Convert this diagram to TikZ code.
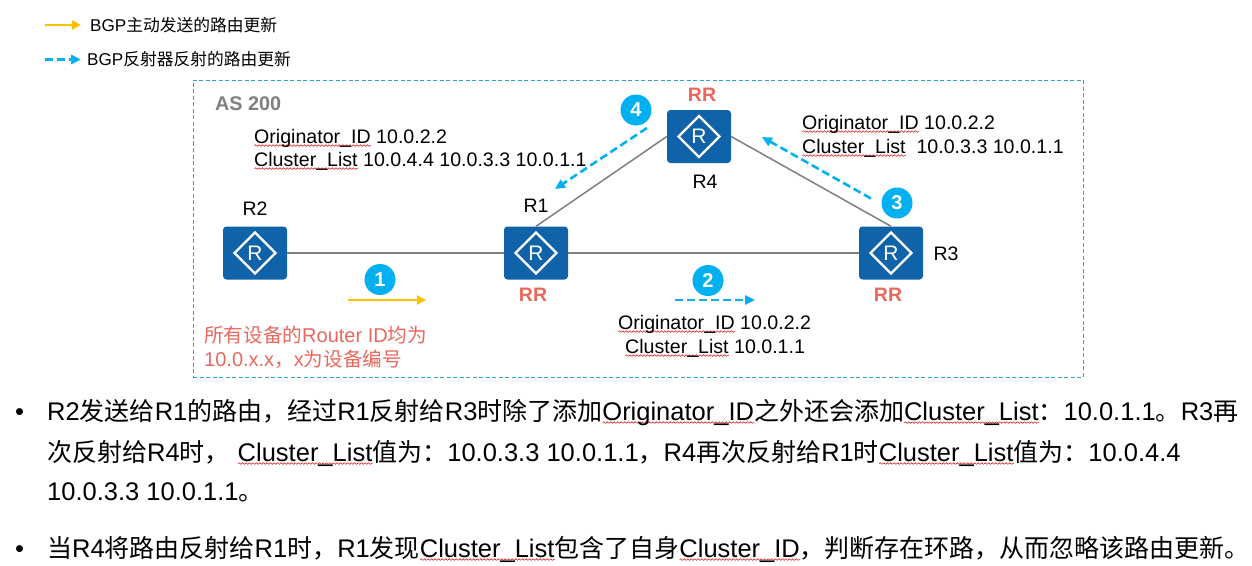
\documentclass[tikz,border=0pt]{standalone}
\usepackage{fontspec}
\setmainfont{Liberation Sans}
\newfontfamily\cjk[Scale=0.98]{Noto Sans CJK SC}
\usetikzlibrary{decorations.pathmorphing,arrows.meta,shapes.geometric}
\definecolor{routerblue}{HTML}{1063A9}
\definecolor{cyanblue}{HTML}{00B0F0}
\definecolor{boxblue}{HTML}{2AA5D0}
\definecolor{linegray}{HTML}{808080}
\definecolor{amber}{HTML}{FFC000}
\definecolor{salmon}{HTML}{E9685E}
\newcommand{\zh}[1]{{\cjk #1}}
\newsavebox{\sqbox}
\newcommand{\sq}[1]{\sbox{\sqbox}{#1}\rlap{\raisebox{-3.6pt}{\tikz\draw[squiggle] (0pt,0pt) -- (\the\wd\sqbox,0pt);}}\usebox{\sqbox}}
\newcommand{\routerat}[2]{%
  \node[routerbox] (#1) at (#2) {};
  \node[routerdiamond] (#1d) at (#2) {};
  \node[routerletter] (#1r) at (#2) {R};
}
\tikzset{
  x=1pt,y=-1pt,
  routerbox/.style={draw=none,fill=routerblue,rounded corners=3.5pt,minimum width=64pt,minimum height=53pt,inner sep=0pt},
  routerdiamond/.style={draw=white,line width=2.4pt,diamond,minimum width=42pt,minimum height=42pt,inner sep=0pt},
  routerletter/.style={text=white,font=\fontsize{21}{21}\selectfont,inner sep=0pt},
  link/.style={draw=linegray,line width=1.5pt},
  sendarrow/.style={draw=amber,line width=2.4pt,-{Triangle[length=9pt,width=9pt]}},
  reflectarrow/.style={draw=cyanblue,line width=2.6pt,dash pattern=on 8pt off 4pt,-{Triangle[length=10pt,width=9pt]}},
  badge/.style={circle,fill=cyanblue,text=white,minimum size=31pt,inner sep=0pt,font=\fontsize{20}{20}\selectfont\bfseries},
  lab/.style={anchor=base west,inner sep=0pt,font=\fontsize{19.6}{19.6}\selectfont},
  redlab/.style={anchor=base west,inner sep=0pt,text=salmon,font=\fontsize{20}{20}\selectfont},
  rname/.style={anchor=base,inner sep=0pt,font=\fontsize{19.5}{19.5}\selectfont},
  rrlab/.style={anchor=base,inner sep=0pt,text=salmon,font=\fontsize{19.5}{19.5}\selectfont\bfseries},
  legend/.style={anchor=base west,inner sep=0pt,font=\fontsize{17.1}{17.1}\selectfont},
  bodyt/.style={anchor=base west,inner sep=0pt,font=\fontsize{25.5}{25.5}\selectfont},
  squiggle/.style={draw=red!85!black,line width=0.5pt,decorate,decoration={snake,amplitude=0.8pt,segment length=3.5pt}},
}
\begin{document}
\begin{tikzpicture}
\useasboundingbox (0,0) rectangle (1252,565);
\fill[white] (0,0) rectangle (1252,565);
% legend
\coordinate (la) at (45,25); \coordinate (lb) at (81,25);
\coordinate (lc) at (45,59.5); \coordinate (ld) at (81,59.5);
\draw[sendarrow] (la) -- (lb);
\draw[reflectarrow] (lc) -- (ld);
\node[legend] (lt1) at (90,31) {BGP\zh{主动发送的路由更新}};
\node[legend] (lt2) at (87,65) {BGP\zh{反射器反射的路由更新}};
% AS box
\node[draw=boxblue,line width=0.7pt,dash pattern=on 4pt off 2.5pt,minimum width=890pt,minimum height=297pt,inner sep=0pt] (asbox) at (638,228.5) {};
\node[anchor=base west,inner sep=0pt,text=linegray,font=\fontsize{19.8}{19.8}\selectfont\bfseries] (astxt) at (215,110) {AS 200};
% routers
\routerat{R2}{255,253}
\routerat{R1}{536,253}
\routerat{R3}{891,253}
\routerat{R4}{699,136.5}
% links
\draw[link] (R2) -- (R1);
\draw[link] (R1) -- (R3);
\draw[link] (R1.north) -- (R4.west);
\draw[link] (R4.east) -- (R3.north);
% names
\node[rname] (n2) at (255,215) {R2};
\node[rname] (n1) at (536,212) {R1};
\node[rname] (n4) at (705,188) {R4};
\node[rname] (n3) at (946,260) {R3};
\node[rrlab] (rr4) at (702,101) {RR};
\node[rrlab] (rr1) at (533,301) {RR};
\node[rrlab] (rr3) at (888,301) {RR};
% arrows
\coordinate (a1s) at (348,300); \coordinate (a1e) at (426,300);
\coordinate (a2s) at (675,300); \coordinate (a2e) at (755,300);
\coordinate (a3s) at (871,198.5); \coordinate (a3e) at (762,137);
\coordinate (a4s) at (647,128); \coordinate (a4e) at (555,189);
\draw[sendarrow] (a1s) -- (a1e);
\draw[reflectarrow] (a2s) -- (a2e);
\draw[reflectarrow] (a3s) -- (a3e);
\draw[reflectarrow] (a4s) -- (a4e);
\node[badge] (b1) at (380,279.5) {1};
\node[badge] (b2) at (708,280.5) {2};
\node[badge] (b3) at (897,203) {3};
\node[badge] (b4) at (636,110) {4};
% labels
\node[lab] (t1) at (254,143) {\sq{Originator\_ID} 10.0.2.2};
\node[lab] (t2) at (254,166) {\sq{Cluster\_List} 10.0.4.4 10.0.3.3 10.0.1.1};
\node[lab] (t3) at (802,129) {\sq{Originator\_ID} 10.0.2.2};
\node[lab] (t4) at (802,153) {\sq{Cluster\_List}\ \ 10.0.3.3 10.0.1.1};
\node[lab] (t5) at (618,329) {\sq{Originator\_ID} 10.0.2.2};
\node[lab] (t6) at (625,353) {\sq{Cluster\_List} 10.0.1.1};
\node[redlab] (t7) at (204,342) {\zh{所有设备的}Router ID\zh{均为}};
\node[redlab] (t8) at (204,366) {10.0.x.x\zh{，}x\zh{为设备编号}};
% body
\node[bodyt] (bu1) at (15,420) {•};
\node[bodyt] (bu2) at (15,557) {•};
\node[bodyt] (l1) at (47,420) {R2\zh{发送给}R1\zh{的路由，经过}R1\zh{反射给}R3\zh{时除了添加}\sq{Originator\_ID}\zh{之外还会添加}\sq{Cluster\_List}\zh{：}10.0.1.1\zh{。}R3\zh{再}};
\node[bodyt] (l2) at (47,461) {\zh{次反射给}R4\zh{时，}\hspace{8pt}\sq{Cluster\_List}\zh{值为：}10.0.3.3 10.0.1.1\zh{，}R4\zh{再次反射给}R1\zh{时}\sq{Cluster\_List}\zh{值为：}10.0.4.4};
\node[bodyt] (l3) at (47,500) {10.0.3.3 10.0.1.1\zh{。}};
\node[bodyt] (l4) at (47,557) {\zh{当}R4\zh{将路由反射给}R1\zh{时，}R1\zh{发现}\sq{Cluster\_List}\zh{包含了自身}\sq{Cluster\_ID}\zh{，判断存在环路，从而忽略该路由更新。}};
\end{tikzpicture}
\end{document}
